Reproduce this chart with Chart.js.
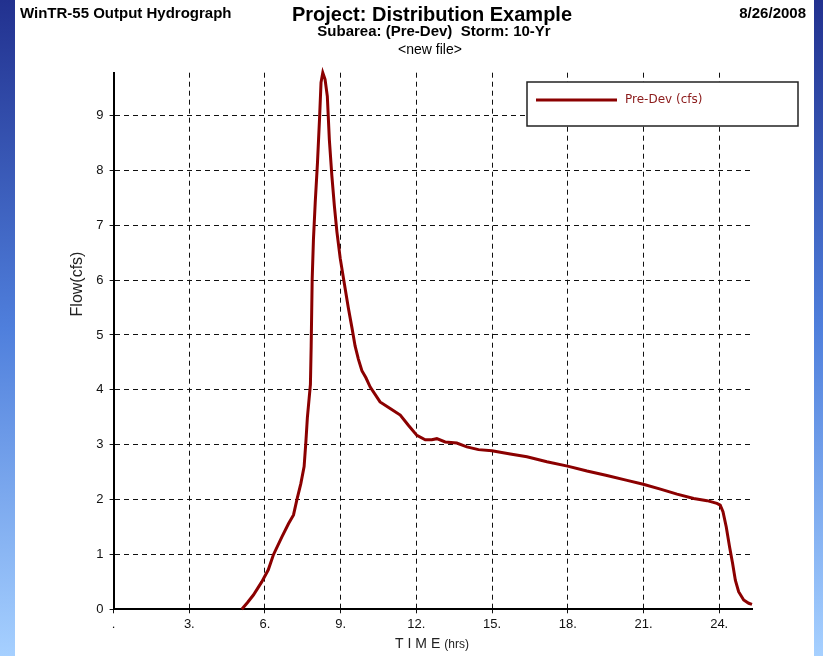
<!DOCTYPE html>
<html>
<head>
<meta charset="utf-8">
<script src="https://cdn.jsdelivr.net/npm/chart.js@4.4.0/dist/chart.umd.min.js"></script>
<style>
  html, body { margin: 0; padding: 0; background: #fff; }
</style>
</head>
<body>
<canvas id="chart" width="823" height="656"></canvas>
<script>
// hydrograph values (hrs, cfs)
const times = [5.08, 5.30, 5.54, 5.87, 6.13, 6.33, 6.67, 6.93, 7.13, 7.26, 7.42, 7.55, 7.62, 7.68, 7.75,
  7.80, 7.83, 7.87, 7.92, 7.99, 8.08, 8.16, 8.22, 8.29, 8.38, 8.47, 8.55, 8.65, 8.75, 8.85, 8.98,
  9.15, 9.30, 9.45, 9.57, 9.70, 9.84, 10.00, 10.17, 10.56, 10.96, 11.36, 11.69, 12.02, 12.35, 12.61,
  12.81, 13.14, 13.60, 14.00, 14.46, 14.99, 15.72, 16.38, 17.17, 17.99, 18.76, 19.55, 20.35, 20.99,
  21.67, 22.33, 22.99, 23.52, 23.91, 24.04, 24.15, 24.28, 24.41, 24.53, 24.64, 24.77, 24.97, 25.17, 25.30];
const flows = [0.00, 0.12, 0.26, 0.50, 0.72, 0.99, 1.32, 1.56, 1.72, 1.99, 2.29, 2.60, 3.05, 3.50, 3.85,
  4.10, 4.80, 6.02, 6.74, 7.41, 8.14, 8.93, 9.60, 9.78, 9.66, 9.35, 8.56, 7.90, 7.35, 6.88, 6.40,
  5.92, 5.50, 5.12, 4.80, 4.56, 4.35, 4.22, 4.05, 3.78, 3.66, 3.54, 3.35, 3.17, 3.09, 3.09,
  3.11, 3.05, 3.03, 2.96, 2.91, 2.89, 2.83, 2.78, 2.69, 2.61, 2.52, 2.44, 2.35, 2.28,
  2.19, 2.10, 2.02, 1.98, 1.93, 1.90, 1.78, 1.50, 1.14, 0.84, 0.53, 0.32, 0.17, 0.11, 0.09];

const xTickValues = [0, 3, 6, 9, 12, 15, 18, 21, 24];
const yTickValues = [0, 1, 2, 3, 4, 5, 6, 7, 8, 9];
const xMax = 25.3;
const yMax = 9.78;

const seriesLabel = 'Pre-Dev (cfs)';
const headerLeft = 'WinTR-55 Output Hydrograph';
const headerTitle = 'Project: Distribution Example';
const headerSub = 'Subarea: (Pre-Dev)  Storm: 10-Yr';
const headerFile = '<new file>';
const headerDate = '8/26/2008';
const yTitle = 'Flow(cfs)';
const xTitle = 'T I M E';
const xUnit = '(hrs)';

const lineColor = '#8b0000';
const sans = '"Liberation Sans", Arial, sans-serif';

// slide background, headings, axis titles and the boxed legend
const decor = {
  id: 'decor',
  beforeDraw(chart) {
    const { ctx, width, height } = chart;
    ctx.save();
    const g = ctx.createLinearGradient(0, 0, 0, height);
    g.addColorStop(0, '#22318f');
    g.addColorStop(0.5, '#4f7fdc');
    g.addColorStop(1, '#a6d0ff');
    ctx.fillStyle = g;
    ctx.fillRect(0, 0, width, height);
    ctx.fillStyle = '#fff';
    ctx.fillRect(15, 0, 799, height);
    ctx.restore();
  },
  afterDraw(chart) {
    const ctx = chart.ctx;
    ctx.save();
    ctx.fillStyle = '#000';
    ctx.textBaseline = 'middle';

    ctx.font = 'bold 15px ' + sans;
    ctx.textAlign = 'left';
    ctx.fillText(headerLeft, 20, 14);
    ctx.textAlign = 'right';
    ctx.fillText(headerDate, 806, 14);

    ctx.textAlign = 'center';
    ctx.font = 'bold 20px ' + sans;
    ctx.fillText(headerTitle, 432, 15);
    ctx.font = 'bold 15px ' + sans;
    ctx.fillText(headerSub, 434, 32);
    ctx.font = '14px ' + sans;
    ctx.fillText(headerFile, 430, 50);

    // y axis title
    ctx.save();
    ctx.translate(78, 284);
    ctx.rotate(-Math.PI / 2);
    ctx.font = '16px ' + sans;
    ctx.fillStyle = '#222';
    ctx.fillText(yTitle, 0, 0);
    ctx.restore();

    // x axis title
    ctx.textAlign = 'left';
    ctx.fillStyle = '#222';
    ctx.font = '14px ' + sans;
    const w1 = ctx.measureText(xTitle).width;
    ctx.font = '12px ' + sans;
    const w2 = ctx.measureText(xUnit).width;
    const x0 = 432 - (w1 + 4 + w2) / 2;
    ctx.font = '14px ' + sans;
    ctx.fillText(xTitle, x0, 644);
    ctx.font = '12px ' + sans;
    ctx.fillText(xUnit, x0 + w1 + 4, 645);

    // legend
    ctx.fillStyle = '#fff';
    ctx.fillRect(527, 82, 271, 44);
    ctx.strokeStyle = '#222';
    ctx.lineWidth = 1.5;
    ctx.strokeRect(527, 82, 271, 44);
    ctx.strokeStyle = lineColor;
    ctx.lineWidth = 3;
    ctx.beginPath();
    ctx.moveTo(536, 100);
    ctx.lineTo(617, 100);
    ctx.stroke();
    ctx.fillStyle = '#8b1a1a';
    ctx.font = '12px "DejaVu Sans", sans-serif';
    ctx.fillText(chart.data.datasets[0].label, 625, 100);
    ctx.restore();
  }
};

const ctx = document.getElementById('chart').getContext('2d');
new Chart(ctx, {
  type: 'line',
  data: {
    datasets: [{
      label: seriesLabel,
      data: times.map((t, i) => ({ x: t, y: flows[i] })),
      borderColor: lineColor,
      borderWidth: 3,
      pointRadius: 0,
      tension: 0,
      fill: false,
      clip: false
    }]
  },
  options: {
    responsive: false,
    animation: false,
    events: [],
    layout: { padding: { left: 53.6, top: 72.7, right: 71, bottom: 16.7 } },
    plugins: {
      legend: { display: false },
      tooltip: { enabled: false },
      title: { display: false }
    },
    scales: {
      x: {
        type: 'linear',
        min: 0,
        max: xMax,
        afterBuildTicks: s => { s.ticks = xTickValues.map(v => ({ value: v })); },
        afterFit: s => { s.height = 30; },
        ticks: {
          autoSkip: false,
          maxRotation: 0,
          padding: 3,
          color: '#111',
          font: { family: 'Liberation Sans', size: 13 },
          callback: v => (v === 0 ? '.' : v + '.')
        },
        grid: { color: '#111', lineWidth: 1, tickLength: 4 },
        border: { display: true, color: '#000', width: 2, dash: [5, 4] }
      },
      y: {
        type: 'linear',
        min: 0,
        max: yMax,
        afterBuildTicks: s => { s.ticks = yTickValues.map(v => ({ value: v })); },
        afterFit: s => { s.width = 60; },
        ticks: {
          padding: 6,
          color: '#111',
          font: { family: 'Liberation Sans', size: 13 },
          callback: v => String(v)
        },
        grid: { color: '#111', lineWidth: 1, tickLength: 4 },
        border: { display: true, color: '#000', width: 2, dash: [5, 4] }
      }
    }
  },
  plugins: [decor]
});
</script>
</body>
</html>
